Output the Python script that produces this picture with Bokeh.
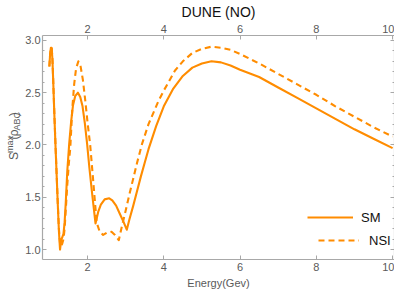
import math
from bokeh.plotting import figure
from bokeh.layouts import row
from bokeh.models import (LinearAxis, FixedTicker, Range1d, Legend,
                          LegendItem, NumeralTickFormatter)
from bokeh.core.properties import value
from bokeh.embed import file_html
from bokeh.resources import INLINE

# ---------------- data ----------------
energy_sm = [1.00, 1.02, 1.04, 1.06, 1.08, 1.10, 1.13, 1.16, 1.19, 1.22,
             1.25, 1.28, 1.31, 1.34, 1.37, 1.40, 1.43, 1.47, 1.52, 1.57,
             1.62, 1.68, 1.75, 1.81, 1.87, 1.93, 1.99, 2.05, 2.12, 2.21,
             2.28, 2.35, 2.45, 2.57, 2.65, 2.75, 2.85, 2.95, 3.03, 3.10,
             3.20, 3.30, 3.40, 3.50, 3.60, 3.80, 4.00, 4.25, 4.50, 4.75,
             5.00, 5.25, 5.50, 5.75, 6.00, 6.50, 7.00, 7.50, 8.00, 8.50,
             9.00, 9.50, 10.00]
s_sm = [2.75, 2.87, 2.93, 2.93, 2.82, 2.62, 2.30, 2.00, 1.72, 1.44,
        1.18, 1.00, 1.09, 1.12, 1.15, 1.26, 1.45, 1.75, 2.01, 2.22,
        2.38, 2.47, 2.50, 2.46, 2.37, 2.21, 2.01, 1.78, 1.54, 1.25,
        1.36, 1.43, 1.48, 1.49, 1.47, 1.42, 1.34, 1.26, 1.19, 1.29,
        1.42, 1.56, 1.70, 1.83, 1.96, 2.18, 2.37, 2.54, 2.66, 2.74,
        2.78, 2.80, 2.79, 2.76, 2.72, 2.65, 2.55, 2.45, 2.35, 2.25,
        2.15, 2.06, 1.97]

energy_nsi = [1.00, 1.02, 1.04, 1.06, 1.08, 1.10, 1.13, 1.16, 1.19, 1.22,
              1.25, 1.28, 1.31, 1.34, 1.37, 1.40, 1.43, 1.47, 1.51, 1.55,
              1.60, 1.65, 1.70, 1.76, 1.82, 1.88, 1.94, 2.00, 2.07, 2.14,
              2.24, 2.32, 2.41, 2.50, 2.63, 2.72, 2.82, 2.90, 3.00, 3.10,
              3.20, 3.30, 3.43, 3.60, 3.86, 4.00, 4.29, 4.50, 4.75, 5.00,
              5.25, 5.50, 5.75, 6.00, 6.50, 7.00, 7.50, 8.00, 8.50, 9.00,
              9.50, 10.00]
s_nsi = [2.75, 2.87, 2.93, 2.93, 2.83, 2.63, 2.31, 2.01, 1.73, 1.45,
         1.20, 1.06, 1.03, 1.06, 1.10, 1.20, 1.38, 1.62, 1.82, 1.98,
         2.34, 2.58, 2.73, 2.80, 2.75, 2.62, 2.43, 2.22, 2.00, 1.70,
         1.26, 1.17, 1.14, 1.16, 1.17, 1.14, 1.09, 1.22, 1.37, 1.53,
         1.68, 1.83, 2.01, 2.20, 2.42, 2.52, 2.71, 2.80, 2.88, 2.92,
         2.94, 2.93, 2.91, 2.87, 2.78, 2.68, 2.58, 2.48, 2.37, 2.27,
         2.17, 2.08]

x_ticks = [2, 4, 6, 8, 10]
y_ticks = [1.0, 1.5, 2.0, 2.5, 3.0]
y_minor_ticks = [0.9, 1.1, 1.2, 1.3, 1.4, 1.6, 1.7, 1.8, 1.9, 2.1, 2.2, 2.3,
                 2.4, 2.6, 2.7, 2.8, 2.9]

title_text = "DUNE (NO)"
x_label = "Energy(Gev)"
series_labels = ["SM", "NSI"]
# y-axis title S^max(rho_ABC): (text, role) pieces
y_label_parts = [("S", "main"), ("max", "sup"), ("(", "main"), ("ρ", "main"),
                 ("ABC", "sub"), (")", "main")]

# ---------------- style ----------------
FONT = "Liberation Sans"
ORANGE = "#ff8c00"
AXC = "#a8a8a8"
LBL = "#5a5a5a"
X0, X1 = 0.82, 10.05
Y0, Y1 = 0.905, 3.047
H = 279
LABEL_W = 22

p = figure(frame_width=352, frame_height=224,
           x_range=Range1d(X0, X1), y_range=Range1d(Y0, Y1),
           output_backend="svg", toolbar_location=None,
           x_axis_location="below", y_axis_location="left",
           min_border_left=10, min_border_right=0,
           min_border_top=0, min_border_bottom=0,
           outline_line_color=None, background_fill_color="white",
           border_fill_color="white")
p.xgrid.visible = False
p.ygrid.visible = False


def style_axis(ax, ticks, minor=None, show_labels=True):
    ax.ticker = FixedTicker(ticks=ticks, minor_ticks=minor or [])
    ax.axis_line_color = AXC
    ax.axis_line_width = 1.2
    ax.major_tick_line_color = AXC
    ax.minor_tick_line_color = AXC
    ax.major_tick_in = 4
    ax.major_tick_out = 0
    ax.minor_tick_in = 2
    ax.minor_tick_out = 0
    ax.major_label_text_font = FONT
    ax.major_label_text_color = LBL
    ax.major_label_text_font_size = "11px"
    if show_labels:
        ax.major_label_standoff = 3
    else:
        ax.major_label_overrides = {t: "" for t in ticks}
        ax.major_label_standoff = 0


bottom = p.xaxis[0]
style_axis(bottom, x_ticks)
bottom.axis_label = x_label
bottom.axis_label_text_font = FONT
bottom.axis_label_text_font_size = "11px"
bottom.axis_label_text_font_style = "normal"
bottom.axis_label_text_color = LBL
bottom.axis_label_standoff = 3

left = p.yaxis[0]
style_axis(left, y_ticks, y_minor_ticks)
left.major_label_standoff = 2
left.formatter = NumeralTickFormatter(format="0.0")

top = LinearAxis()
style_axis(top, x_ticks)
top.axis_label = title_text
top.axis_label_text_font = FONT
top.axis_label_text_font_size = "14px"
top.axis_label_text_font_style = "normal"
top.axis_label_text_color = "#111111"
top.axis_label_standoff = 2
p.add_layout(top, "above")

right = LinearAxis()
style_axis(right, y_ticks, y_minor_ticks, show_labels=False)
p.add_layout(right, "right")

# ---------------- curves ----------------
r_sm = p.line(energy_sm, s_sm, line_color=ORANGE, line_width=2.1,
              line_join="round")
r_nsi = p.line(energy_nsi, s_nsi, line_color=ORANGE, line_width=2.1,
               line_dash="6 4", line_join="round")

# ---------------- legends ----------------
common = dict(padding=0, margin=0, border_line_color=None,
              background_fill_alpha=0, label_text_font=FONT,
              label_text_font_size="13px", label_text_color="#111111",
              glyph_height=16, label_height=16)
leg_sm = Legend(items=[LegendItem(label=series_labels[0], renderers=[r_sm])],
                location=(265, 34), glyph_width=46, label_standoff=8, **common)
leg_nsi = Legend(items=[LegendItem(label=series_labels[1], renderers=[r_nsi])],
                 location=(276, 11), glyph_width=41, label_standoff=10, **common)
p.add_layout(leg_sm)
p.add_layout(leg_nsi)

# ---------------- y-axis title panel (pixel coordinates) ----------------
q = figure(width=LABEL_W, height=H, x_range=Range1d(0, LABEL_W),
           y_range=Range1d(0, H), output_backend="svg",
           toolbar_location=None, min_border=0, outline_line_color=None,
           x_axis_location=None, y_axis_location=None,
           background_fill_color="white", border_fill_color="white")
q.xgrid.visible = False
q.ygrid.visible = False

sizes = {"main": 12, "sup": 9, "sub": 9}
widths_em = {"S": 0.667, "max": 1.889, "(": 0.333, "ρ": 0.56, "ABC": 2.056,
             ")": 0.333}
shift = {"main": 0, "sup": -4, "sub": 2.5}
gap = {"S": 1.0, "max": 1.0, "(": 0.3, "ρ": 0.6, "ABC": 0.4, ")": 0}
BASE_X = 13.5
lens = [widths_em[t] * sizes[r] + gap[t] for t, r in y_label_parts]
start = 146 - sum(lens) / 2
for role in ("main", "sup", "sub"):
    xs, ys, ts = [], [], []
    pos = start
    for (t, r), L in zip(y_label_parts, lens):
        if r == role:
            xs.append(BASE_X + shift[r])
            ys.append(pos)
            ts.append(t)
        pos += L
    q.text(x=xs, y=ys, text=ts, angle=math.pi / 2, text_align="left",
           text_baseline="alphabetic", text_font=value(FONT),
           text_font_size=value(f"{sizes[role]}px"), text_color=LBL)

layout = row(q, p, spacing=0)
open("out.html", "w").write(file_html(layout, INLINE))
